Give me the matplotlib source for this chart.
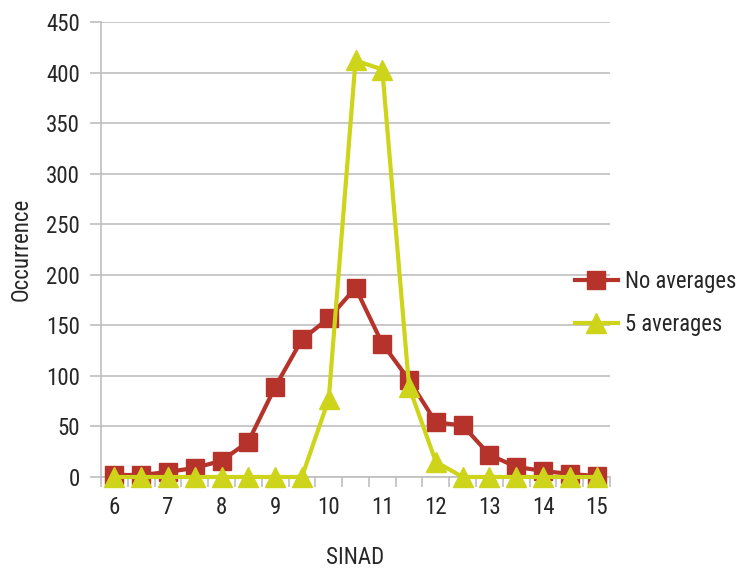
import matplotlib
matplotlib.use("Agg")
import matplotlib.pyplot as plt
from matplotlib.ticker import FixedLocator

plt.rcParams['font.family'] = ['Roboto Condensed', 'Roboto', 'DejaVu Sans']

sinad = [6, 6.5, 7, 7.5, 8, 8.5, 9, 9.5, 10, 10.5, 11, 11.5, 12, 12.5, 13, 13.5, 14, 14.5, 15]
no_avg = [2, 2, 5, 9, 16, 35, 89, 136, 157, 187, 132, 96, 54, 51, 22, 10, 6, 3, 1]
five_avg = [0, 0, 0, 0, 0, 0, 0, 0, 77, 412, 403, 89, 15, 0, 0, 0, 0, 0, 0]
tick_labels = ['6', '7', '8', '9', '10', '11', '12', '13', '14', '15']
y_ticks = [0, 50, 100, 150, 200, 250, 300, 350, 400, 450]

red = '#B5332A'
yel = '#CDD41A'
grid = '#BFBFBF'
txt = '#262626'
fs = 16.5
lfs = 16.3

fig = plt.figure(figsize=(7.41, 5.72), dpi=100)
ax = fig.add_axes([101/741, 1-477/572, (610-101)/741, (477-22)/572])

idx = list(range(len(sinad)))
ax.plot(idx, no_avg, color=red, lw=3, marker='s', ms=13, label='No averages', zorder=3, clip_on=False)
ax.plot(idx, five_avg, color=yel, lw=3, marker='^', ms=15, label='5 averages', zorder=4, clip_on=False)

ax.set_xlim(-0.5, len(sinad) - 0.5)
ax.set_ylim(0, 450)
ax.set_yticks(y_ticks)
ax.yaxis.grid(True, color=grid, lw=1.2)
ax.set_axisbelow(True)

# x: ticks at category boundaries, labels at every other category
ax.xaxis.set_major_locator(FixedLocator([i - 0.5 for i in range(len(sinad) + 1)]))
ax.set_xticklabels([])
lab_pos = [i for i, v in enumerate(sinad) if float(v).is_integer()]
ax.xaxis.set_minor_locator(FixedLocator(lab_pos))
ax.set_xticklabels(tick_labels, minor=True)
ax.tick_params(axis='x', which='major', length=7, color=grid, width=1.2, direction='out')
ax.tick_params(axis='x', which='minor', length=0, pad=14, labelsize=fs, labelcolor=txt)
ax.tick_params(axis='y', length=8, color=grid, width=1.2, pad=7, labelsize=fs, labelcolor=txt)

for s in ['top', 'right']:
    ax.spines[s].set_visible(False)
for s in ['left', 'bottom']:
    ax.spines[s].set_color(grid)
    ax.spines[s].set_linewidth(1.2)

ax.set_xlabel('SINAD', fontsize=fs, color=txt, labelpad=19)
ax.set_ylabel('Occurrence', fontsize=fs, color=txt, labelpad=10)

leg = fig.legend(loc='upper left', bbox_to_anchor=(568/741, 1-263/572), frameon=False,
                 fontsize=lfs, handlelength=1.9, labelspacing=0.9, handletextpad=0.3,
                 labelcolor=txt, borderaxespad=0, borderpad=0.3)

fig.savefig('out.png', dpi=100)
